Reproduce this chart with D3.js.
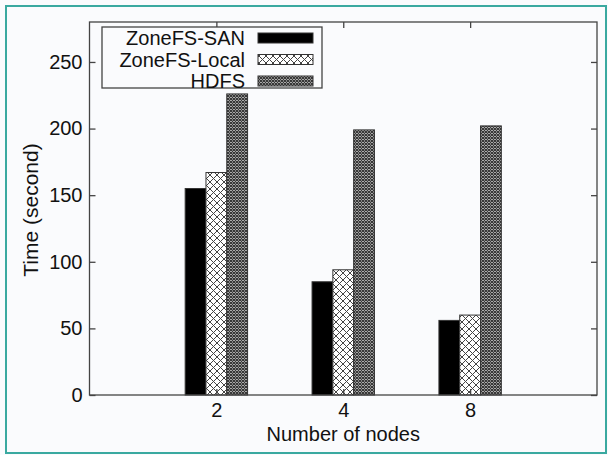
<!DOCTYPE html>
<html>
<head>
<meta charset="utf-8">
<script src="https://cdn.jsdelivr.net/npm/d3@7"></script>
<style>
  html, body { margin: 0; padding: 0; background: #fafbfd; }
  svg { display: block; }
  text { font-family: "Liberation Sans", Arial, sans-serif; fill: #111; }
</style>
</head>
<body>
<svg id="chart" width="608" height="455"></svg>
<script>
const categories = ["2", "4", "8"];
const seriesNames = ["ZoneFS-SAN", "ZoneFS-Local", "HDFS"];
const sanValues = [155, 85, 56];
const localValues = [167, 94, 60];
const hdfsValues = [226, 199, 202];
const yTicks = [0, 50, 100, 150, 200, 250];
const xLabel = "Number of nodes";
const yLabel = "Time (second)";

const series = [sanValues, localValues, hdfsValues];

const svg = d3.select("#chart");
const W = 608, H = 455;
const m = { left: 89.5, top: 22, right: 597, bottom: 395 };
const FONT = "Liberation Sans, Arial, sans-serif";

// background + teal frame
svg.append("rect").attr("x", 0).attr("y", 0).attr("width", W).attr("height", H).attr("fill", "#fafbfd");
svg.append("rect").attr("x", 6).attr("y", 6).attr("width", 600).attr("height", 447)
  .attr("fill", "none").attr("stroke", "#3aa9a0").attr("stroke-width", 2);

// patterns
const defs = svg.append("defs");
const p1 = defs.append("pattern").attr("id", "pLocal").attr("patternUnits", "userSpaceOnUse")
  .attr("width", 7).attr("height", 7);
p1.append("rect").attr("width", 7).attr("height", 7).attr("fill", "#fff");
p1.append("path").attr("d", "M0,0 L7,7 M7,0 L0,7").attr("stroke", "#444").attr("stroke-width", 1);
const p2 = defs.append("pattern").attr("id", "pHdfs").attr("patternUnits", "userSpaceOnUse")
  .attr("width", 3).attr("height", 3);
p2.append("rect").attr("width", 3).attr("height", 3).attr("fill", "#d8d8d8");
p2.append("path").attr("d", "M0,0 L3,3 M3,0 L0,3").attr("stroke", "#2e2e2e").attr("stroke-width", 1.05);
const fills = ["#000", "url(#pLocal)", "url(#pHdfs)"];

// scales
const x = d3.scaleLinear().domain([0, categories.length + 1]).range([m.left, m.right]);
const y = d3.scaleLinear().domain([0, 280]).range([m.bottom, m.top]);
const bw = 20.8;

// bars
categories.forEach((c, i) => {
  const cx = x(i + 1);
  series.forEach((vals, s) => {
    svg.append("rect")
      .attr("x", cx + (s - 1.5) * bw)
      .attr("y", y(vals[i]))
      .attr("width", bw)
      .attr("height", y(0) - y(vals[i]))
      .attr("fill", fills[s])
      .attr("stroke", "#333")
      .attr("stroke-width", 1);
  });
});

// plot frame
svg.append("rect").attr("x", m.left).attr("y", m.top)
  .attr("width", m.right - m.left).attr("height", m.bottom - m.top)
  .attr("fill", "none").attr("stroke", "#444").attr("stroke-width", 1.3);

// y axis (inward ticks) + mirror
const yAxis = d3.axisLeft(y).tickValues(yTicks).tickSize(-6).tickPadding(7);
const gy = svg.append("g").attr("transform", `translate(${m.left},0)`).call(yAxis);
gy.select(".domain").remove();
gy.selectAll("line").attr("stroke", "#444").attr("stroke-width", 1.3);
gy.selectAll("text").style("font-size", "20px").style("font-family", FONT).attr("fill", "#111");
const gyr = svg.append("g").attr("transform", `translate(${m.right},0)`)
  .call(d3.axisRight(y).tickValues(yTicks).tickSize(-6).tickFormat(""));
gyr.select(".domain").remove();
gyr.selectAll("line").attr("stroke", "#444").attr("stroke-width", 1.3);

// x axis
const xAxis = d3.axisBottom(x).tickValues(categories.map((c, i) => i + 1))
  .tickFormat((d, i) => categories[i]).tickSize(-6).tickPadding(8);
const gx = svg.append("g").attr("transform", `translate(0,${m.bottom})`).call(xAxis);
gx.select(".domain").remove();
gx.selectAll("line").attr("stroke", "#444").attr("stroke-width", 1.3);
gx.selectAll("text").style("font-size", "20px").style("font-family", FONT).attr("fill", "#111");
const gxt = svg.append("g").attr("transform", `translate(0,${m.top})`)
  .call(d3.axisTop(x).tickValues(categories.map((c, i) => i + 1)).tickSize(-6).tickFormat(""));
gxt.select(".domain").remove();
gxt.selectAll("line").attr("stroke", "#444").attr("stroke-width", 1.3);

// axis titles
svg.append("text").attr("x", (m.left + m.right) / 2).attr("y", 441)
  .attr("text-anchor", "middle").style("font-size", "20px").text(xLabel);
svg.append("text").attr("transform", "translate(38,210) rotate(-90)")
  .attr("text-anchor", "middle").style("font-size", "21px").text(yLabel);

// legend
const lg = svg.append("g");
lg.append("rect").attr("x", 102).attr("y", 27).attr("width", 220).attr("height", 61)
  .attr("fill", "#fafbfd").attr("stroke", "#444").attr("stroke-width", 1.3);
seriesNames.forEach((n, i) => {
  const cy = 38 + i * 21.5;
  lg.append("text").attr("x", 245).attr("y", cy).attr("dy", "0.35em")
    .attr("text-anchor", "end").style("font-size", "20px").text(n);
  lg.append("rect").attr("x", 258).attr("y", cy - 5).attr("width", 55).attr("height", 10)
    .attr("fill", fills[i]).attr("stroke", "#333").attr("stroke-width", 1);
});
</script>
</body>
</html>
